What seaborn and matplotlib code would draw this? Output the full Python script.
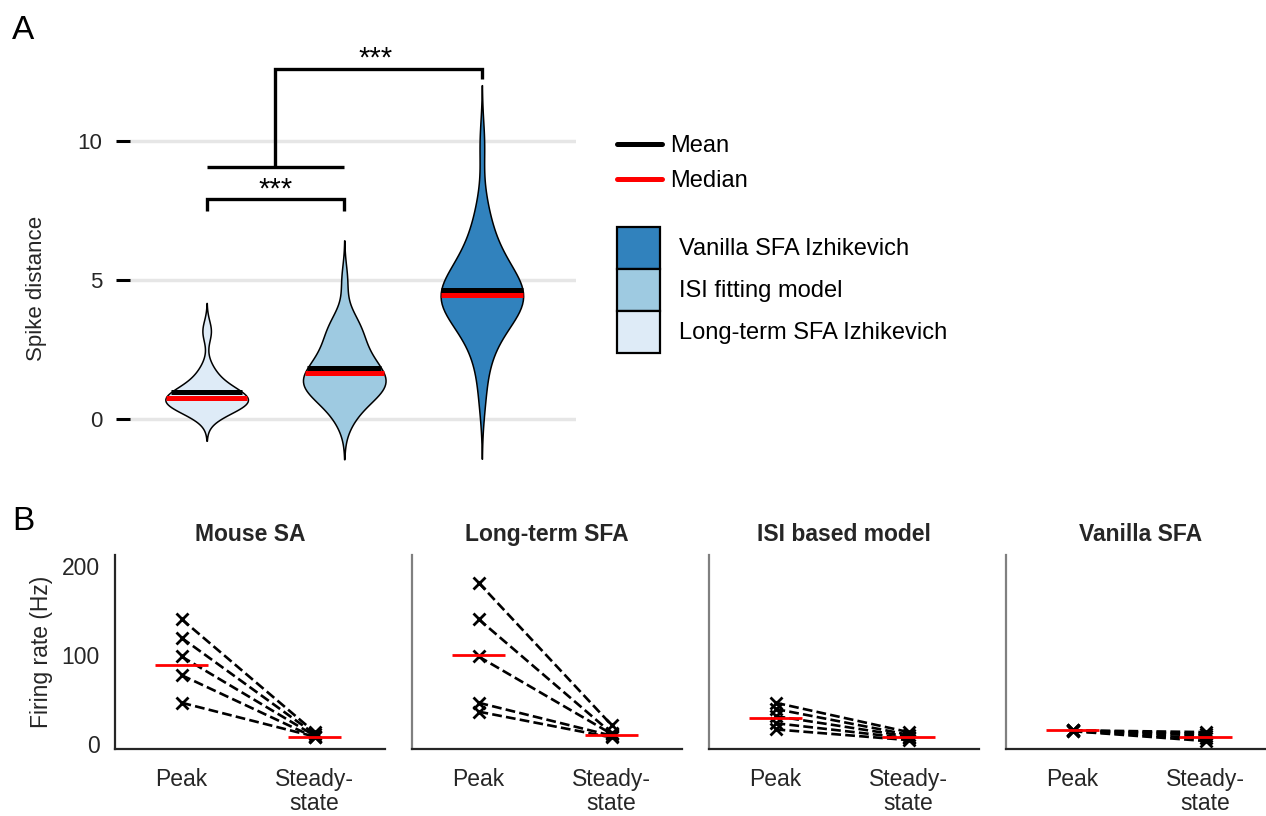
import matplotlib
matplotlib.use("Agg")
import matplotlib.pyplot as plt
import seaborn as sns
import pandas as pd
import numpy as np
from matplotlib.lines import Line2D
from matplotlib.patches import Patch

# Panel A: spike distance samples per model
longterm_sd = [0.16, 0.25, 0.32, 0.38, 0.42, 0.47, 0.52, 0.56, 0.6, 0.62,
               0.65, 0.7, 0.72, 0.75, 0.78, 0.8, 0.82, 0.85, 0.9, 0.95,
               1.0, 1.1, 1.2, 1.35, 1.5, 1.6, 1.9, 3.1, 3.25]
isi_sd = [0.0, 0.2, 0.5, 0.8, 0.9, 1.0, 1.1, 1.1, 1.2, 1.2,
          1.3, 1.3, 1.4, 1.5, 1.66, 1.7, 1.8, 1.9, 2.0, 2.2,
          2.3, 2.5, 2.7, 2.9, 3.1, 3.3, 3.5, 3.6, 5.0]
vanilla_sd = [0.7, 1.8, 2.4, 2.8, 3.1, 3.3, 3.5, 3.65, 3.8, 3.9,
              4.0, 4.1, 4.2, 4.3, 4.35, 4.42, 4.45, 4.5, 4.55, 4.65,
              4.75, 4.85, 5.0, 5.15, 5.3, 5.5, 5.6, 5.8, 6.0, 6.3,
              6.7, 7.1, 7.8, 9.9]
model_names = ["Long-term SFA Izhikevich", "ISI fitting model", "Vanilla SFA Izhikevich"]
model_colors = ["#deebf7", "#9ecae1", "#3182bd"]

# Panel B: firing rates (Hz) per cell, peak vs steady-state
panel_titles = ["Mouse SA", "Long-term SFA", "ISI based model", "Vanilla SFA"]
peak_rates = [[140, 119, 98, 77, 46],
              [181, 140, 98, 46, 36],
              [46, 39, 31, 23, 16],
              [15, 15, 15, 14, 14]]
steady_rates = [[13, 11, 9, 7, 8],
                [21, 12, 11, 9, 7],
                [13, 10, 8, 6, 4],
                [13, 11, 9, 6, 3]]
peak_medians = [88, 100, 29, 15]
steady_medians = [7, 10, 7.5, 8]
phase_labels = ["Peak", "Steady-\nstate"]

sns.set_theme(style="white")
plt.rcParams["font.family"] = ["Liberation Sans", "DejaVu Sans"]

W, H = 1266, 816
fig = plt.figure(figsize=(W / 100, H / 100), dpi=100)

# ---------------- Panel A ----------------
axA = fig.add_axes([130 / W, 1 - 464 / H, 446 / W, 423 / H])
dfA = pd.DataFrame({
    "model": [model_names[0]] * len(longterm_sd) + [model_names[1]] * len(isi_sd)
             + [model_names[2]] * len(vanilla_sd),
    "sd": longterm_sd + isi_sd + vanilla_sd,
})
sns.violinplot(data=dfA, x="model", y="sd", hue="model", order=model_names,
               hue_order=model_names, palette=model_colors, saturation=1,
               density_norm="width", width=0.6, cut=2.5, inner=None,
               linewidth=1.1, linecolor="black", legend=False, ax=axA)

samples = [longterm_sd, isi_sd, vanilla_sd]
for i, poly in enumerate(axA.collections[:3]):
    v = poly.get_paths()[0].vertices
    right = v[v[:, 0] > i + 1e-9]
    right = right[np.argsort(right[:, 1])]
    for stat, col in [(np.median(samples[i]), "red"), (np.mean(samples[i]), "black")]:
        hw = np.interp(stat, right[:, 1], right[:, 0]) - i
        axA.plot([i - hw, i + hw], [stat, stat], color=col, lw=3.6,
                 solid_capstyle="butt", zorder=3)

# significance brackets
bk = dict(color="black", lw=2.4, solid_joinstyle="miter", solid_capstyle="butt")
axA.plot([0, 0, 1, 1], [7.49, 7.91, 7.91, 7.49], **bk)
axA.plot([0, 1], [9.06, 9.06], **bk)
axA.plot([0.5, 0.5, 2, 2], [9.06, 12.6, 12.6, 12.23], **bk)
axA.text(0.5, 7.98, "***", ha="center", va="baseline", fontsize=21, color="black")
axA.text(1.23, 12.68, "***", ha="center", va="baseline", fontsize=21, color="black")

axA.set_xlim(-0.557, 2.684)
axA.set_ylim(-1.61, 13.61)
axA.set_yticks([0, 5, 10])
axA.set_xticks([])
axA.set_xlabel("")
axA.set_ylabel("Spike distance", fontsize=16)
axA.yaxis.set_label_coords(-0.187, 0.416)
axA.tick_params(axis="y", left=True, length=10, width=2.2, color="black",
                direction="out", pad=10, labelsize=16)
axA.grid(axis="y", color="#e6e6e6", lw=2.5)
axA.set_axisbelow(True)
for s in axA.spines.values():
    s.set_visible(False)

stat_handles = [Line2D([], [], color="black", lw=3.6), Line2D([], [], color="red", lw=3.6)]
fig.legend(stat_handles, ["Mean", "Median"], loc="upper left",
           bbox_to_anchor=(617 / W, 1 - 135 / H), frameon=False, fontsize=17,
           labelcolor="black", handlelength=1.92, handletextpad=0.34,
           labelspacing=0.55, borderpad=0, borderaxespad=0)
model_handles = [Patch(facecolor=c, edgecolor="black", lw=1.6) for c in model_colors[::-1]]
fig.legend(model_handles, model_names[::-1], loc="upper left",
           bbox_to_anchor=(617 / W, 1 - 226.7 / H), frameon=False, fontsize=17,
           labelcolor="black", handlelength=1.82, handleheight=2.36,
           handletextpad=0.8, labelspacing=0, borderpad=0, borderaxespad=0)

fig.text(12 / W, 1 - 39 / H, "A", fontsize=24, va="baseline", color="black")
fig.text(12 / W, 1 - 530 / H, "B", fontsize=24, va="baseline", color="black")

# ---------------- Panel B ----------------
for k in range(4):
    ax = fig.add_axes([(115 + 297 * k) / W, 67 / H, 270 / W, 194 / H])
    n = len(peak_rates[k])
    dfB = pd.DataFrame({
        "cell": list(range(n)) * 2,
        "phase": [0] * n + [1] * n,
        "rate": peak_rates[k] + steady_rates[k],
    })
    sns.lineplot(data=dfB, x="phase", y="rate", units="cell", estimator=None,
                 color="black", linestyle="--", lw=1.9, marker="x", markersize=8,
                 mec="black", mew=2, legend=False, ax=ax)
    ax.hlines(peak_medians[k], -0.2, 0.2, color="red", lw=2, zorder=4)
    ax.hlines(steady_medians[k], 0.8, 1.2, color="red", lw=2, zorder=4)

    ax.set_xlim(-0.5, 1.53)
    ax.set_ylim(-6, 212)
    ax.set_xticks([0, 1])
    ax.set_xticklabels(phase_labels, linespacing=1.05)
    ax.set_yticks([0, 100, 200])
    ax.set_xlabel("")
    ax.set_ylabel("")
    ax.tick_params(axis="both", length=0, labelsize=16.5)
    ax.tick_params(axis="x", pad=14)
    ax.tick_params(axis="y", pad=11)
    ax.set_title(panel_titles[k], fontsize=16.5, fontweight="bold", pad=10)
    ax.spines["top"].set_visible(False)
    ax.spines["right"].set_visible(False)
    ax.spines["bottom"].set_color("#262626")
    ax.spines["bottom"].set_linewidth(1.6)
    ax.spines["left"].set_linewidth(1.6)
    if k == 0:
        ax.spines["left"].set_color("#262626")
        ax.set_ylabel("Firing rate (Hz)", fontsize=16.5, labelpad=6)
    else:
        ax.spines["left"].set_color("#808080")
        ax.tick_params(axis="y", labelleft=False)

fig.savefig("out.png", dpi=100)
